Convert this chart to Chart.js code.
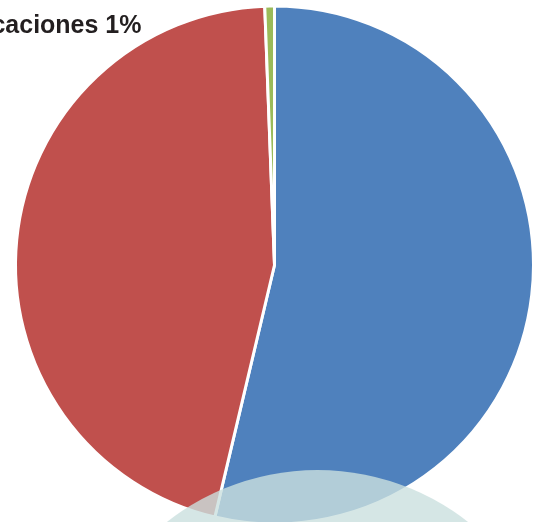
<!DOCTYPE html>
<html>
<head>
<meta charset="utf-8">
<style>
  html, body { margin: 0; padding: 0; background: #ffffff; overflow: hidden; }
  #wrap { width: 544px; height: 522px; position: relative; }
</style>
<script src="https://cdn.jsdelivr.net/npm/chart.js@4/dist/chart.umd.min.js"></script>
</head>
<body>
<div id="wrap"><canvas id="c" width="544" height="522"></canvas></div>
<script>
const categories = ["Personal", "Operación", "Comunicaciones"];
const values = [53.7, 45.7, 0.6];
const shownLabels = ["", "", "Comunicaciones 1%"];
const colors = ["#4f81bd", "#c0504d", "#9bbb59"];

const overlayPlugin = {
  id: 'overlay',
  afterDraw(chart) {
    const ctx = chart.ctx;
    const arc = chart.getDatasetMeta(0).data[0];
    const cx = arc.x, cy = arc.y;
    ctx.save();
    // decorative translucent circle at the bottom
    ctx.beginPath();
    ctx.arc(cx + 43, cy + 449, 244, 0, Math.PI * 2);
    ctx.fillStyle = 'rgba(202,224,223,0.8)';
    ctx.fill();
    // label of the small slice
    ctx.fillStyle = '#231f20';
    ctx.font = 'bold 25px "Liberation Sans Narrow", "Arial Narrow", sans-serif';
    ctx.textAlign = 'right';
    ctx.textBaseline = 'alphabetic';
    ctx.save();
    ctx.translate(cx - 133, cy - 232);
    ctx.scale(1, 1.06);
    ctx.fillText(shownLabels[2], 0, 0);
    ctx.restore();
    ctx.restore();
  }
};

new Chart(document.getElementById('c'), {
  type: 'pie',
  data: {
    labels: categories,
    datasets: [{
      data: values,
      backgroundColor: colors,
      borderColor: '#ffffff',
      borderWidth: 3
    }]
  },
  options: {
    responsive: false,
    animation: false,
    radius: 259,
    layout: { padding: { left: 5, right: 0, top: 8, bottom: 0 } },
    plugins: { legend: { display: false }, tooltip: { enabled: false } }
  },
  plugins: [overlayPlugin]
});
</script>
</body>
</html>
